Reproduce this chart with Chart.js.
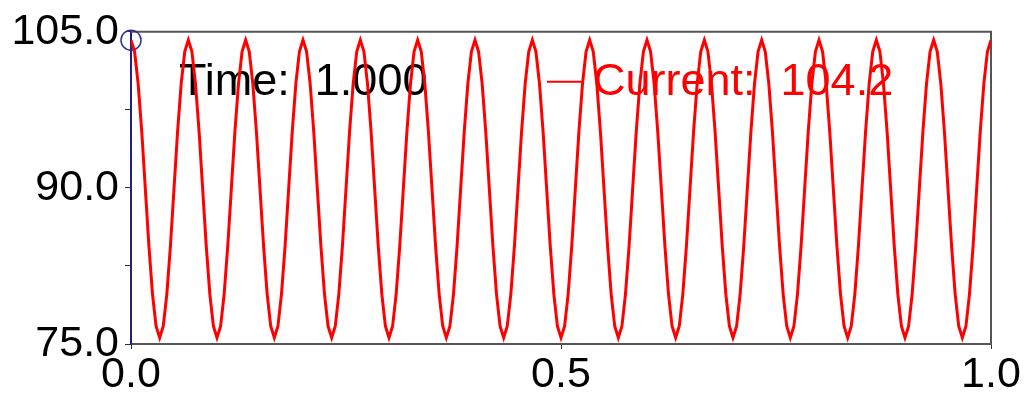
<!DOCTYPE html>
<html>
<head>
<meta charset="utf-8">
<script src="https://cdn.jsdelivr.net/npm/chart.js@4/dist/chart.umd.min.js"></script>
<style>
    body { margin: 0; background: #fff; }
</style>
</head>
<body>
<canvas id="currentChart" width="1028" height="394"></canvas>
<script>
// current readings, sampled evenly over the 1 s window
const current = [
    104.2, 103.1, 100.0, 95.4, 89.9, 84.4, 79.8, 76.7, 75.6, 76.7, 79.8, 84.4, 89.9, 95.4, 100.0, 103.1,
    104.2, 103.1, 100.0, 95.4, 89.9, 84.4, 79.8, 76.7, 75.6, 76.7, 79.8, 84.4, 89.9, 95.4, 100.0, 103.1,
    104.2, 103.1, 100.0, 95.4, 89.9, 84.4, 79.8, 76.7, 75.6, 76.7, 79.8, 84.4, 89.9, 95.4, 100.0, 103.1,
    104.2, 103.1, 100.0, 95.4, 89.9, 84.4, 79.8, 76.7, 75.6, 76.7, 79.8, 84.4, 89.9, 95.4, 100.0, 103.1,
    104.2, 103.1, 100.0, 95.4, 89.9, 84.4, 79.8, 76.7, 75.6, 76.7, 79.8, 84.4, 89.9, 95.4, 100.0, 103.1,
    104.2, 103.1, 100.0, 95.4, 89.9, 84.4, 79.8, 76.7, 75.6, 76.7, 79.8, 84.4, 89.9, 95.4, 100.0, 103.1,
    104.2, 103.1, 100.0, 95.4, 89.9, 84.4, 79.8, 76.7, 75.6, 76.7, 79.8, 84.4, 89.9, 95.4, 100.0, 103.1,
    104.2, 103.1, 100.0, 95.4, 89.9, 84.4, 79.8, 76.7, 75.6, 76.7, 79.8, 84.4, 89.9, 95.4, 100.0, 103.1,
    104.2, 103.1, 100.0, 95.4, 89.9, 84.4, 79.8, 76.7, 75.6, 76.7, 79.8, 84.4, 89.9, 95.4, 100.0, 103.1,
    104.2, 103.1, 100.0, 95.4, 89.9, 84.4, 79.8, 76.7, 75.6, 76.7, 79.8, 84.4, 89.9, 95.4, 100.0, 103.1,
    104.2, 103.1, 100.0, 95.4, 89.9, 84.4, 79.8, 76.7, 75.6, 76.7, 79.8, 84.4, 89.9, 95.4, 100.0, 103.1,
    104.2, 103.1, 100.0, 95.4, 89.9, 84.4, 79.8, 76.7, 75.6, 76.7, 79.8, 84.4, 89.9, 95.4, 100.0, 103.1,
    104.2, 103.1, 100.0, 95.4, 89.9, 84.4, 79.8, 76.7, 75.6, 76.7, 79.8, 84.4, 89.9, 95.4, 100.0, 103.1,
    104.2, 103.1, 100.0, 95.4, 89.9, 84.4, 79.8, 76.7, 75.6, 76.7, 79.8, 84.4, 89.9, 95.4, 100.0, 103.1,
    104.2, 103.1, 100.0, 95.4, 89.9, 84.4, 79.8, 76.7, 75.6, 76.7, 79.8, 84.4, 89.9, 95.4, 100.0, 103.1,
    104.2
];
const timeSpan = 1.0;          // seconds covered by the readings
const xTicks = [0.0, 0.5, 1.0];
const yTickLabels = [75.0, 90.0, 105.0];
const cursorTime = 1.0;         // readout shown in the top box
const cursorCurrent = 104.2;

const points = current.map((v, i) => ({ x: i / (current.length - 1) * timeSpan, y: v }));

const FONT = '"Liberation Sans", Arial, sans-serif';
Chart.defaults.font.family = FONT;

// top/right frame + readout text
const framePlugin = {
    id: 'frame',
    beforeDatasetsDraw(chart) {
        const ctx = chart.ctx;
        const a = chart.chartArea;
        ctx.save();
        ctx.strokeStyle = '#555';
        ctx.lineWidth = 2;
        ctx.beginPath();
        ctx.moveTo(a.left, a.top);
        ctx.lineTo(a.right, a.top);
        ctx.lineTo(a.right, a.bottom);
        ctx.stroke();

        ctx.font = '45px ' + FONT;
        ctx.textBaseline = 'alphabetic';
        ctx.fillStyle = '#000';
        ctx.fillText('Time:  ' + cursorTime.toFixed(3), a.left + 48, a.top + 63);

        ctx.strokeStyle = '#ff0000';
        ctx.lineWidth = 2;
        ctx.beginPath();
        ctx.moveTo(a.left + 416, a.top + 50);
        ctx.lineTo(a.left + 451, a.top + 50);
        ctx.stroke();
        ctx.fillStyle = '#ff0000';
        ctx.fillText('Current:  ' + cursorCurrent.toFixed(1), a.left + 462, a.top + 63);
        ctx.restore();
    }
};

new Chart(document.getElementById('currentChart'), {
    type: 'line',
    data: {
        datasets: [{
            data: points,
            borderColor: '#ff0000',
            borderWidth: 3,
            pointRadius: 0,
            tension: 0,
            fill: false
        }, {
            data: [{ x: 0, y: current[0] }],
            showLine: false,
            pointRadius: 10,
            pointBorderWidth: 1.5,
            pointBorderColor: '#303090',
            pointBackgroundColor: 'rgba(0,0,0,0)',
            clip: false
        }]
    },
    options: {
        responsive: false,
        animation: false,
        layout: {
            padding: { top: 30, right: 37, left: 0, bottom: 0 }
        },
        plugins: {
            legend: { display: false },
            tooltip: { enabled: false }
        },
        scales: {
            x: {
                type: 'linear',
                min: 0,
                max: timeSpan,
                afterFit(scale) { scale.height = 50; },
                afterBuildTicks(scale) { scale.ticks = xTicks.map(v => ({ value: v })); },
                ticks: {
                    color: '#000',
                    font: { size: 43 },
                    padding: 0,
                    maxRotation: 0,
                    callback: v => v.toFixed(1)
                },
                grid: {
                    drawOnChartArea: false,
                    tickLength: 5,
                    color: '#333'
                },
                border: { color: '#555', width: 2 }
            },
            y: {
                min: 75,
                max: 105,
                afterFit(scale) { scale.width = 131; },
                ticks: {
                    stepSize: 7.5,
                    color: '#000',
                    font: { size: 43 },
                    padding: 6,
                    callback: v => yTickLabels.includes(v) ? v.toFixed(1) : ''
                },
                grid: {
                    drawOnChartArea: false,
                    tickLength: 6,
                    color: '#333'
                },
                border: { color: '#202080', width: 2 }
            }
        }
    },
    plugins: [framePlugin]
});
</script>
</body>
</html>
